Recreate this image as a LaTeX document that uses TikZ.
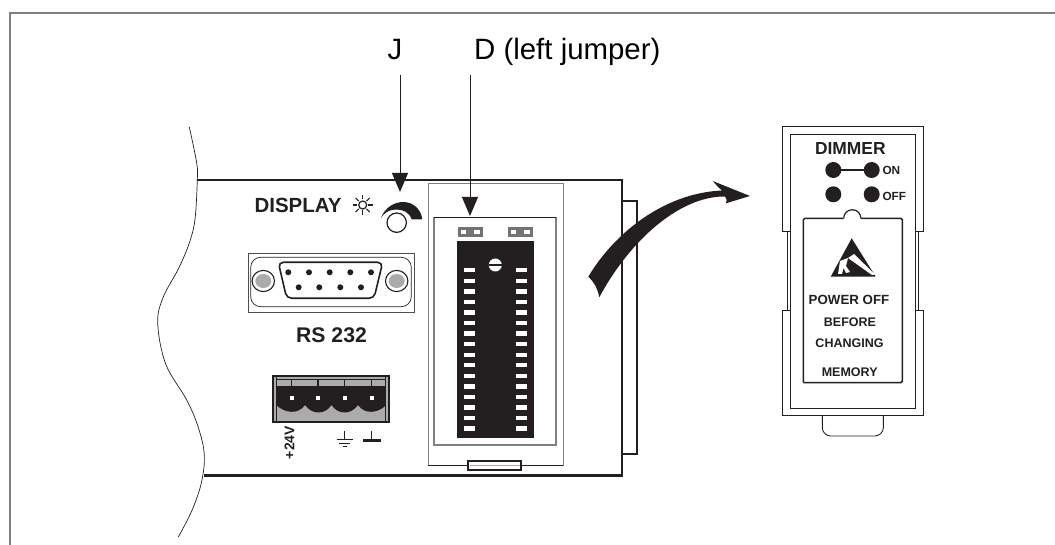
\documentclass[tikz,border=0pt]{standalone}
\usepackage{fontspec}
\setmainfont{Liberation Sans}
\usetikzlibrary{arrows.meta}
\definecolor{ink}{HTML}{231F20}
\definecolor{midgray}{HTML}{808080}
\definecolor{softgray}{HTML}{ABABAB}
\tikzset{
	callout/.style={inner sep=0pt,text=black,font=\fontsize{29.4}{30}\selectfont},
	pointer/.style={draw=ink,line width=1pt,-{Triangle[length=19pt,width=16pt]}},
	paneltext/.style={inner sep=0pt,text=ink,font=\bfseries\fontsize{#1}{#1}\selectfont},
	pin/.style={fill=white,draw=softgray,line width=.4pt},
}
\begin{document}
\begin{tikzpicture}[x=1pt,y=-1pt]
	\useasboundingbox (0,0) rectangle (1055,545);
	% page frame
	\draw[midgray,line width=1.5pt] (10,545) -- (10,13) -- (1055,13);
	% board
	\draw[ink,line width=.7pt] plot[smooth,tension=.6] coordinates {(189.3,127) (196.7,163) (197.3,180) (195,219) (189.3,243) (178.3,269) (163.3,297) (157.7,323) (165.7,364) (186.7,400) (198.3,427.5) (204.3,455) (201.3,483) (191.7,511) (178.3,537)};
	\draw[ink,line width=2.4pt] (197.3,180) -- (622,180) -- (622,475.5) -- (204,475.5);
	\draw[ink,line width=2pt] (622,201) -- (636.7,201) -- (636.7,454) -- (622,454);
	% display knob
	\node[paneltext=20.5,anchor=base west] (display) at (254.3,213) {DISPLAY};
	\draw[ink,line width=1.2pt] (362.7,205) circle (4);
	\foreach \a in {0,45,...,315}
		\draw[ink,line width=1.1pt] (362.7,205) ++(\a:5.5) -- ++(\a:4.5);
	\draw[ink,line width=1.2pt] (396.7,222.7) circle (9.7);
	\fill[ink] (381,218) .. controls (385,207) and (395,202) .. (403,202) .. controls (413,202) and (421,209) .. (422.3,219.3) -- (411.7,219.3) .. controls (409,212) and (403,209.5) .. (396,209.5) .. controls (389,209.5) and (384,213) .. cycle;
	% serial port
	\draw[ink!80,line width=1pt] (248.7,253.3) rectangle (414,312.7);
	\draw[ink,line width=.7pt,rounded corners=10pt] (250.7,257.3) rectangle (411.3,306.7);
	\foreach \x in {263.3,396.7} {
		\draw[ink,line width=1.1pt,fill=white] (\x,281) ellipse (11.2 and 10.6);
		\fill[softgray] (\x,281) ellipse (8 and 7);
	}
	\draw[ink,line width=1.6pt,rounded corners=5pt] (278.3,262.3) -- (382.7,262.3) -- (374,298.3) -- (286.7,298.3) -- cycle;
	\foreach \x in {288.3,309,329.7,350.3,371}
		\fill[ink] (\x,272.3) circle (3);
	\foreach \x in {298.7,319.3,340.3,361}
		\fill[ink] (\x,287.3) circle (3);
	\node[paneltext=21.2,anchor=base] (serial) at (331.5,342) {RS 232};
	% power terminal
	\fill[softgray] (272.7,376) rectangle (389.3,422.3);
	\fill[ink] (276.7,386) -- (385.7,386) -- (385.7,405.5) .. controls (378,413) and (365,415) .. (358,405) .. controls (351,415) and (338,415) .. (331.5,405) .. controls (325,415) and (312,415) .. (305,405) .. controls (298,415) and (285,413) .. (276.7,405.5) -- cycle;
	\draw[ink,line width=1.8pt] (272.7,376) rectangle (389.3,422.3);
	\draw[ink,line width=.8pt] (276.7,377) -- (276.7,422);
	\draw[ink,line width=.8pt] (385.7,377) -- (385.7,422);
	\draw[ink,line width=1pt] (276.7,379) -- (385.7,379);
	\foreach \x in {291.7,318,344.7,371.7} {
		\draw[ink,line width=1.4pt] (\x,380) -- (\x,386);
		\fill[white] (\x-2.2,395.7) rectangle (\x+2.2,400.1);
	}
	\node[paneltext=14,rotate=90] (supply) at (289.5,442.5) {+24V};
	\draw[ink,line width=1pt] (344.3,431) -- (344.3,439.3) (336.7,439.3) -- (352.7,439.3) (339.3,443.3) -- (350,443.3) (342.7,446.7) -- (346.7,446.7);
	\draw[ink,line width=1pt] (371.7,431) -- (371.7,440);
	\draw[ink,line width=3pt] (363.3,440.3) -- (380.7,440.3);
	% memory socket
	\draw[midgray,line width=1.2pt] (428.3,465.7) -- (428.3,183.3) -- (563.3,183.3) -- (563.3,465.7);
	\draw[ink,line width=.8pt] (428.3,465.7) -- (563.3,465.7);
	\draw[midgray,line width=1.2pt] (434,217) -- (434,445) -- (556,445) -- (556,217);
	\draw[ink,line width=.8pt] (434,217) -- (556,217);
	\fill[ink] (456.7,240.7) rectangle (534,437.7);
	\foreach \n in {0,...,15} {
		\fill[white] (464,268.1+10.55*\n) rectangle (475,272.5+10.55*\n);
		\fill[white] (516,268.1+10.55*\n) rectangle (527,272.5+10.55*\n);
	}
	\fill[white] (495.3,265) circle (6.5);
	\draw[ink,line width=1.2pt] (488.5,265) -- (502,265);
	% jumpers
	\foreach \x in {458.3,508.3} {
		\fill[midgray!90!black] (\x,227.3) rectangle (\x+24.4,236.7);
		\fill[white] (\x+2.7,230) rectangle (\x+8,234);
		\fill[white] (\x+15.7,230) rectangle (\x+21.7,234);
	}
	\draw[ink,line width=1.8pt,fill=white] (468.3,461.3) rectangle (521.3,470);
	\draw[softgray,line width=1pt] (470,465.6) -- (519.6,465.6);
	% callouts
	\node[callout,anchor=base] (labelJ) at (395,60) {J};
	\node[callout,anchor=base west] (labelD) at (474,60) {D (left jumper)};
	\coordinate (knobtip) at (400,192);
	\coordinate (jumpertip) at (470,216);
	\draw[pointer] (knobtip |- 0,75) -- (knobtip);
	\draw[pointer] (jumpertip |- 0,75) -- (jumpertip);
	% swing arrow
	\fill[ink] (588.3,276.7) .. controls (615,232) and (665,193) .. (722,190.5) .. controls (718,187) .. (712.7,181) -- (750,196) -- (726,203.3) .. controls (727,200) .. (725,196.5) .. controls (680,196) and (630,240) .. (599.3,297.3) .. controls (598,290) and (595,283) .. cycle;
	% dimmer module
	\draw[ink,line width=.9pt] (790,231.7) -- (782.7,231.7) -- (782.7,126) -- (923.3,126) -- (923.3,231.7) -- (915.7,231.7);
	\draw[ink,line width=.9pt] (790,310) -- (782.7,310) -- (782.7,415.7) -- (923.3,415.7) -- (923.3,310) -- (915.7,310);
	\draw[ink,line width=.9pt] (787,231.7) -- (787,310);
	\draw[ink,line width=.9pt] (918.3,231.7) -- (918.3,310);
	\draw[ink,line width=.9pt] (790,134) rectangle (915.7,408.3);
	\draw[ink,line width=.9pt,rounded corners=3pt] (822.3,415.7) -- (822.3,431) -- (827.5,436) -- (878,436) -- (883.3,431) -- (883.3,415.7);
	\draw[ink,line width=1.5pt,rounded corners=1.5pt] (803.3,382.7) -- (803.3,218.3) -- (843.7,218.3);
	\draw[ink,line width=1.2pt] (843.7,218.3) arc[start angle=180,end angle=360,radius=8.6];
	\draw[ink,line width=1.5pt,rounded corners=1.5pt] (860.9,218.3) -- (902.3,218.3) -- (902.3,382.7) -- (803.3,382.7);
	\node[paneltext=17.4] (dimmer) at (850.3,149) {DIMMER};
	\fill[ink] (833.3,170) circle (8) (871.7,170) circle (8) (833.3,194.3) circle (8) (871.7,194.3) circle (8);
	\draw[ink,line width=2pt] (833.3,170) -- (871.7,170);
	\node[paneltext=11.8,anchor=west] (stateon) at (882.3,170) {ON};
	\node[paneltext=11.8,anchor=west] (stateoff) at (882.3,196) {OFF};
	% warning triangle
	\fill[ink] (851.7,238.3) -- (875.7,276.7) -- (830.7,276.7) -- cycle;
	\fill[white] (848,258) -- (854,254) -- (875,274.5) -- (872,275) -- cycle;
	\fill[white] (838,274) -- (840,261) -- (848,258) -- (846,266) -- (850,272) -- (846,273) -- (843.5,268) -- (842,274) -- cycle;
	\node[paneltext=13.3] (warnone) at (849,300) {POWER OFF};
	\node[paneltext=12.5] (warntwo) at (850,321.7) {BEFORE};
	\node[paneltext=12.5] (warnthree) at (849.5,342.7) {CHANGING};
	\node[paneltext=12.5] (memorytag) at (849.7,371.7) {MEMORY};
\end{tikzpicture}
\end{document}
